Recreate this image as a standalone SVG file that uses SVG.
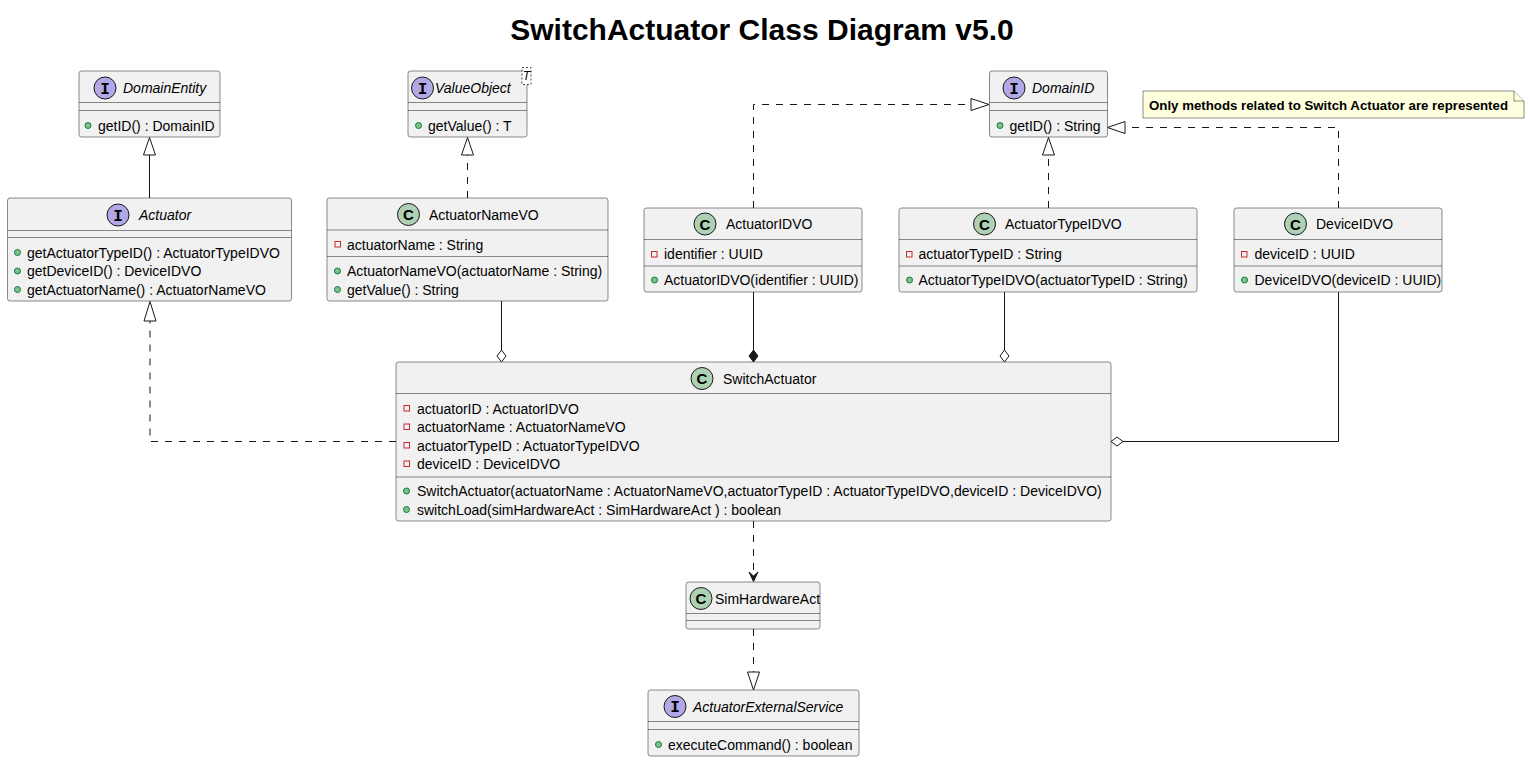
<svg xmlns="http://www.w3.org/2000/svg" width="1530" height="762" viewBox="0 0 1530 762">
<style>
.bg{fill:#FFFFFF}
.box{fill:#F1F1F1;stroke:#181818;stroke-width:0.5}
.sep{stroke:#181818;stroke-width:0.5}
.t{font-family:"Liberation Sans",Arial,sans-serif;font-size:14px;fill:#000000}
.it{font-style:italic}
.spC{fill:#ADD1B2;stroke:#181818;stroke-width:1}
.spI{fill:#B4A7E5;stroke:#181818;stroke-width:1}
.lC{font-family:"Liberation Sans",Arial,sans-serif;font-size:15px;font-weight:bold;fill:#000000}
.lI{font-family:"Liberation Mono","Courier New",monospace;font-size:16px;font-weight:bold;fill:#000000}
.priv{fill:none;stroke:#C82930;stroke-width:1}
.pub{fill:#84BE84;stroke:#038048;stroke-width:1}
.ln{stroke:#181818;stroke-width:1;fill:none}
.dsh{stroke-dasharray:7,7}
.hol{fill:#FFFFFF;stroke:#181818;stroke-width:1}
.fil{fill:#181818;stroke:#181818;stroke-width:1}
.title{font-family:"Liberation Sans",Arial,sans-serif;font-size:30px;font-weight:bold;fill:#000000}
.note{fill:#FEFFDD;stroke:#181818;stroke-width:0.5}
.nt{font-family:"Liberation Sans",Arial,sans-serif;font-size:13px;font-weight:bold;fill:#000000}
</style>
<rect class="bg" x="0" y="0" width="1530" height="762"/>
<text class="title" x="762" y="40" text-anchor="middle">SwitchActuator Class Diagram v5.0</text>

<g id="connectors">
  <!-- Actuator extends DomainEntity -->
  <line class="ln" x1="149.5" y1="198" x2="149.5" y2="155"/>
  <polygon class="hol" points="149.5,137.5 143.5,155 155.5,155"/>
  <!-- ActuatorNameVO implements ValueObject -->
  <line class="ln dsh" x1="467.5" y1="198" x2="467.5" y2="155"/>
  <polygon class="hol" points="467.5,137.5 461.5,155 473.5,155"/>
  <!-- ActuatorIDVO implements DomainID -->
  <path class="ln dsh" d="M753.5,208 V104.5 H971"/>
  <polygon class="hol" points="989,104.5 971,98.5 971,110.5"/>
  <!-- ActuatorTypeIDVO implements DomainID -->
  <line class="ln dsh" x1="1048.5" y1="208" x2="1048.5" y2="155"/>
  <polygon class="hol" points="1048.5,137.5 1042.5,155 1054.5,155"/>
  <!-- DeviceIDVO implements DomainID -->
  <path class="ln dsh" d="M1338.5,208 V127.5 H1125"/>
  <polygon class="hol" points="1107.5,127.5 1125,121.5 1125,133.5"/>
  <!-- ActuatorNameVO aggregation -->
  <line class="ln" x1="501.5" y1="301" x2="501.5" y2="350"/>
  <polygon class="hol" points="501.5,362 497,356 501.5,350 506,356"/>
  <!-- ActuatorIDVO composition -->
  <line class="ln" x1="753.5" y1="292" x2="753.5" y2="350"/>
  <polygon class="fil" points="753.5,362 749,356 753.5,350 758,356"/>
  <!-- ActuatorTypeIDVO aggregation -->
  <line class="ln" x1="1004.5" y1="292" x2="1004.5" y2="350"/>
  <polygon class="hol" points="1004.5,362 1000,356 1004.5,350 1009,356"/>
  <!-- DeviceIDVO aggregation -->
  <path class="ln" d="M1338.5,292 V441.5 H1123"/>
  <polygon class="hol" points="1111,441.5 1117,437 1123,441.5 1117,446"/>
  <!-- SwitchActuator implements Actuator -->
  <path class="ln dsh" d="M396,441.5 H150 V321"/>
  <polygon class="hol" points="150,301.5 144,321 156,321"/>
  <!-- SwitchActuator uses SimHardwareAct -->
  <line class="ln dsh" x1="753.5" y1="521" x2="753.5" y2="579"/>
  <polygon class="fil" points="753.5,581.5 749,572 753.5,576 758,572"/>
  <!-- SimHardwareAct implements ActuatorExternalService -->
  <line class="ln dsh" x1="753.5" y1="629" x2="753.5" y2="672"/>
  <polygon class="hol" points="753.5,690 747.5,672 759.5,672"/>
</g>

<g id="DomainEntity">
  <rect class="box" x="79" y="71" width="141" height="66" rx="2.5"/>
  <line class="sep" x1="79" y1="102.5" x2="220" y2="102.5"/>
  <line class="sep" x1="79" y1="110.5" x2="220" y2="110.5"/>
  <circle class="spI" cx="105" cy="88" r="11"/>
  <text class="lI" x="105" y="93.5" text-anchor="middle">I</text>
  <text class="t it" x="123" y="93">DomainEntity</text>
  <circle class="pub" cx="88" cy="125.5" r="3"/>
  <text class="t" x="98" y="130.5">getID() : DomainID</text>
</g>

<g id="Actuator">
  <rect class="box" x="7.5" y="198" width="284" height="103" rx="2.5"/>
  <line class="sep" x1="7.5" y1="230.5" x2="291.5" y2="230.5"/>
  <line class="sep" x1="7.5" y1="237.5" x2="291.5" y2="237.5"/>
  <circle class="spI" cx="118" cy="215" r="11"/>
  <text class="lI" x="118" y="220.5" text-anchor="middle">I</text>
  <text class="t it" x="139" y="220">Actuator</text>
  <circle class="pub" cx="17.5" cy="252.5" r="3"/>
  <text class="t" x="27" y="257.5">getActuatorTypeID() : ActuatorTypeIDVO</text>
  <circle class="pub" cx="17.5" cy="271" r="3"/>
  <text class="t" x="27" y="276">getDeviceID() : DeviceIDVO</text>
  <circle class="pub" cx="17.5" cy="289.5" r="3"/>
  <text class="t" x="27" y="294.5">getActuatorName() : ActuatorNameVO</text>
</g>

<g id="ValueObject">
  <rect class="box" x="408" y="71" width="119" height="66" rx="2.5"/>
  <line class="sep" x1="408" y1="102.5" x2="527" y2="102.5"/>
  <line class="sep" x1="408" y1="110.5" x2="527" y2="110.5"/>
  <rect x="522" y="67.5" width="9" height="17" fill="#FFFFFF" stroke="#181818" stroke-width="0.8" stroke-dasharray="2,2"/>
  <text class="t it" x="526.5" y="80" text-anchor="middle" style="font-size:12px">T</text>
  <circle class="spI" cx="422.5" cy="88" r="11"/>
  <text class="lI" x="422.5" y="93.5" text-anchor="middle">I</text>
  <text class="t it" x="435" y="93">ValueObject</text>
  <circle class="pub" cx="418.5" cy="125.5" r="3"/>
  <text class="t" x="428" y="130.5">getValue() : T</text>
</g>

<g id="ActuatorNameVO">
  <rect class="box" x="327" y="198" width="281" height="103" rx="2.5"/>
  <line class="sep" x1="327" y1="230" x2="608" y2="230"/>
  <line class="sep" x1="327" y1="256.5" x2="608" y2="256.5"/>
  <circle class="spC" cx="408.5" cy="214.5" r="11"/>
  <text class="lC" x="408.5" y="220" text-anchor="middle">C</text>
  <text class="t" x="429" y="220">ActuatorNameVO</text>
  <rect class="priv" x="335" y="241.5" width="5.5" height="5.5"/>
  <text class="t" x="347" y="249.5">actuatorName : String</text>
  <circle class="pub" cx="337.5" cy="271" r="3"/>
  <text class="t" x="347" y="276">ActuatorNameVO(actuatorName : String)</text>
  <circle class="pub" cx="337.5" cy="289.5" r="3"/>
  <text class="t" x="347" y="294.5">getValue() : String</text>
</g>

<g id="DomainID">
  <rect class="box" x="989.5" y="71" width="118" height="66" rx="2.5"/>
  <line class="sep" x1="989.5" y1="102.5" x2="1107.5" y2="102.5"/>
  <line class="sep" x1="989.5" y1="110.5" x2="1107.5" y2="110.5"/>
  <circle class="spI" cx="1014" cy="88" r="11"/>
  <text class="lI" x="1014" y="93.5" text-anchor="middle">I</text>
  <text class="t it" x="1032" y="93">DomainID</text>
  <circle class="pub" cx="1000" cy="125.5" r="3"/>
  <text class="t" x="1009.5" y="130.5">getID() : String</text>
</g>

<g id="note">
  <polygon class="note" points="1143,91 1514,91 1524,101 1524,118 1143,118"/>
  <path class="note" d="M1514,91 V101 H1524"/>
  <text class="nt" x="1149" y="109.5" textLength="359" lengthAdjust="spacingAndGlyphs">Only methods related to Switch Actuator are represented</text>
</g>

<g id="ActuatorIDVO">
  <rect class="box" x="644" y="208" width="218" height="84" rx="2.5"/>
  <line class="sep" x1="644" y1="239.5" x2="862" y2="239.5"/>
  <line class="sep" x1="644" y1="266" x2="862" y2="266"/>
  <circle class="spC" cx="705" cy="224" r="11"/>
  <text class="lC" x="705" y="229.5" text-anchor="middle">C</text>
  <text class="t" x="726" y="229">ActuatorIDVO</text>
  <rect class="priv" x="651.5" y="251.5" width="5.5" height="5.5"/>
  <text class="t" x="664" y="259">identifier : UUID</text>
  <circle class="pub" cx="654.5" cy="280" r="3"/>
  <text class="t" x="664" y="285">ActuatorIDVO(identifier : UUID)</text>
</g>

<g id="ActuatorTypeIDVO">
  <rect class="box" x="899" y="208" width="298" height="84" rx="2.5"/>
  <line class="sep" x1="899" y1="239.5" x2="1197" y2="239.5"/>
  <line class="sep" x1="899" y1="266" x2="1197" y2="266"/>
  <circle class="spC" cx="984.5" cy="224" r="11"/>
  <text class="lC" x="984.5" y="229.5" text-anchor="middle">C</text>
  <text class="t" x="1005" y="229">ActuatorTypeIDVO</text>
  <rect class="priv" x="906.5" y="251.5" width="5.5" height="5.5"/>
  <text class="t" x="918.5" y="259">actuatorTypeID : String</text>
  <circle class="pub" cx="909.5" cy="280" r="3"/>
  <text class="t" x="918.5" y="285">ActuatorTypeIDVO(actuatorTypeID : String)</text>
</g>

<g id="DeviceIDVO">
  <rect class="box" x="1234" y="208" width="208" height="84" rx="2.5"/>
  <line class="sep" x1="1234" y1="239.5" x2="1442" y2="239.5"/>
  <line class="sep" x1="1234" y1="266" x2="1442" y2="266"/>
  <circle class="spC" cx="1295.5" cy="224" r="11"/>
  <text class="lC" x="1295.5" y="229.5" text-anchor="middle">C</text>
  <text class="t" x="1316" y="229">DeviceIDVO</text>
  <rect class="priv" x="1241.5" y="251.5" width="5.5" height="5.5"/>
  <text class="t" x="1254.5" y="259">deviceID : UUID</text>
  <circle class="pub" cx="1244.5" cy="280" r="3"/>
  <text class="t" x="1254.5" y="285">DeviceIDVO(deviceID : UUID)</text>
</g>

<g id="SwitchActuator">
  <rect class="box" x="396" y="362" width="715" height="159" rx="2.5"/>
  <line class="sep" x1="396" y1="393.5" x2="1111" y2="393.5"/>
  <line class="sep" x1="396" y1="477" x2="1111" y2="477"/>
  <circle class="spC" cx="702" cy="378.5" r="11"/>
  <text class="lC" x="702" y="384" text-anchor="middle">C</text>
  <text class="t" x="723" y="383.5">SwitchActuator</text>
  <rect class="priv" x="404" y="405.5" width="5.5" height="5.5"/>
  <text class="t" x="417" y="413.5">actuatorID : ActuatorIDVO</text>
  <rect class="priv" x="404" y="424" width="5.5" height="5.5"/>
  <text class="t" x="417" y="432">actuatorName : ActuatorNameVO</text>
  <rect class="priv" x="404" y="442.5" width="5.5" height="5.5"/>
  <text class="t" x="417" y="450.5">actuatorTypeID : ActuatorTypeIDVO</text>
  <rect class="priv" x="404" y="461" width="5.5" height="5.5"/>
  <text class="t" x="417" y="469">deviceID : DeviceIDVO</text>
  <circle class="pub" cx="406.5" cy="491" r="3"/>
  <text class="t" x="417" y="496">SwitchActuator(actuatorName : ActuatorNameVO,actuatorTypeID : ActuatorTypeIDVO,deviceID : DeviceIDVO)</text>
  <circle class="pub" cx="406.5" cy="509.5" r="3"/>
  <text class="t" x="417" y="514.5">switchLoad(simHardwareAct : SimHardwareAct ) : boolean</text>
</g>

<g id="SimHardwareAct">
  <rect class="box" x="686" y="582" width="134" height="47" rx="2.5"/>
  <line class="sep" x1="686" y1="613.5" x2="820" y2="613.5"/>
  <line class="sep" x1="686" y1="620.5" x2="820" y2="620.5"/>
  <circle class="spC" cx="701" cy="598.5" r="11"/>
  <text class="lC" x="701" y="604" text-anchor="middle">C</text>
  <text class="t" x="715" y="604">SimHardwareAct</text>
</g>

<g id="ActuatorExternalService">
  <rect class="box" x="648" y="690" width="211" height="66" rx="2.5"/>
  <line class="sep" x1="648" y1="721.5" x2="859" y2="721.5"/>
  <line class="sep" x1="648" y1="729.5" x2="859" y2="729.5"/>
  <circle class="spI" cx="675" cy="706.5" r="11"/>
  <text class="lI" x="675" y="712" text-anchor="middle">I</text>
  <text class="t it" x="693" y="712">ActuatorExternalService</text>
  <circle class="pub" cx="658.5" cy="744.5" r="3"/>
  <text class="t" x="668" y="749.5">executeCommand() : boolean</text>
</g>
</svg>
